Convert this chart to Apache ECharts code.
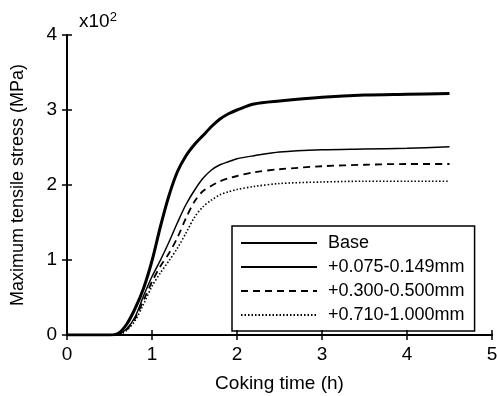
<!DOCTYPE html>
<html>
<head>
<meta charset="utf-8">
<script src="https://cdn.jsdelivr.net/npm/echarts@6/dist/echarts.min.js"></script>
<style>
  html, body { margin: 0; padding: 0; background: #fff; }
  #chart { width: 497px; height: 396px; }
</style>
</head>
<body>
<div id="chart"></div>
<script>
// coking time (h)
const times = [0, 0.5, 0.6, 0.7, 0.8, 0.9, 1.0, 1.1, 1.2, 1.3, 1.4, 1.5, 1.6, 1.7, 1.8, 1.9, 2.0, 2.2, 2.5, 3.0, 3.5, 4.0, 4.5];
// max tensile stress, x10^2 MPa
const base    = [0, 0, 0.02, 0.14, 0.35, 0.62, 0.99, 1.45, 1.86, 2.18, 2.39, 2.54, 2.66, 2.78, 2.88, 2.95, 3.00, 3.08, 3.12, 3.17, 3.20, 3.21, 3.22];
const fine    = [0, 0, 0.01, 0.08, 0.24, 0.52, 0.78, 1.00, 1.24, 1.50, 1.74, 1.93, 2.09, 2.20, 2.27, 2.31, 2.35, 2.39, 2.44, 2.47, 2.48, 2.49, 2.51];
const medium  = [0, 0, 0.01, 0.07, 0.22, 0.46, 0.71, 0.92, 1.09, 1.30, 1.56, 1.78, 1.92, 1.99, 2.05, 2.09, 2.12, 2.17, 2.21, 2.25, 2.27, 2.28, 2.28];
const coarse  = [0, 0, 0.00, 0.06, 0.19, 0.41, 0.65, 0.83, 0.99, 1.16, 1.36, 1.57, 1.71, 1.80, 1.87, 1.91, 1.94, 1.98, 2.02, 2.04, 2.05, 2.05, 2.05];
const names = ['Base', '+0.075-0.149mm', '+0.300-0.500mm', '+0.710-1.000mm'];

const font = 'Arial';
const pairs = (ys) => times.map((t, i) => [t, ys[i]]);

const chart = echarts.init(document.getElementById('chart'));

function line(name, ys, width, type) {
  return {
    name: name,
    type: 'line',
    data: pairs(ys),
    symbol: 'none',
    smooth: 0.3,
    lineStyle: { color: '#000', width: width, type: type },
    itemStyle: { color: '#000' }
  };
}

const frameAxis = {
  axisLine: { show: true, lineStyle: { color: '#000', width: 2 } },
  axisTick: { show: true, inside: true, length: 5, lineStyle: { color: '#000', width: 1.5 } },
  splitLine: { show: false },
  axisLabel: { show: false }
};

chart.setOption({
  animation: false,
  backgroundColor: '#fff',
  title: {
    text: 'x10{s|2}',
    left: 74, top: 6,
    textStyle: {
      fontFamily: font, fontSize: 19, fontWeight: 'normal', color: '#000',
      rich: { s: { fontFamily: font, fontSize: 13, verticalAlign: 'top', padding: [0, 0, 8, 0] } }
    }
  },
  grid: { left: 67, right: 5, top: 35, bottom: 61, outerBoundsMode: 'none' },
  legend: {
    orient: 'vertical',
    left: 232, top: 226,
    itemWidth: 76, itemHeight: 14, itemGap: 6,
    padding: [8, 10, 7, 8],
    borderColor: '#000', borderWidth: 1.5,
    itemStyle: { opacity: 0 },
    textStyle: { fontFamily: font, fontSize: 18, color: '#000', padding: [0, 0, 0, 6] },
    data: names
  },
  xAxis: [
    {
      type: 'value', min: 0, max: 5, interval: 1,
      name: 'Coking time (h)', nameLocation: 'middle', nameGap: 39,
      nameTextStyle: { fontFamily: font, fontSize: 19, color: '#000' },
      axisLine: { lineStyle: { color: '#000', width: 2 } },
      axisTick: { inside: true, length: 5, lineStyle: { color: '#000', width: 1.5 } },
      axisLabel: { fontFamily: font, fontSize: 19, color: '#000', margin: 10 },
      splitLine: { show: false }
    },
    Object.assign({ type: 'value', position: 'top', min: 0, max: 5, interval: 1 }, frameAxis)
  ],
  yAxis: [
    {
      type: 'value', min: 0, max: 4, interval: 1,
      name: 'Maximum tensile stress (MPa)', nameLocation: 'middle', nameGap: 40,
      nameTextStyle: { fontFamily: font, fontSize: 18, color: '#000' },
      axisLine: { lineStyle: { color: '#000', width: 2 } },
      axisTick: { inside: true, length: 5, lineStyle: { color: '#000', width: 1.5 } },
      axisLabel: { fontFamily: font, fontSize: 19, color: '#000', margin: 10 },
      splitLine: { show: false }
    },
    Object.assign({ type: 'value', position: 'right', min: 0, max: 4, interval: 1 }, frameAxis)
  ],
  series: [
    line(names[0], base, 3, 'solid'),
    line(names[1], fine, 1.5, 'solid'),
    line(names[2], medium, 1.8, [7, 5]),
    line(names[3], coarse, 1.6, [1.5, 2])
  ]
});
</script>
</body>
</html>
